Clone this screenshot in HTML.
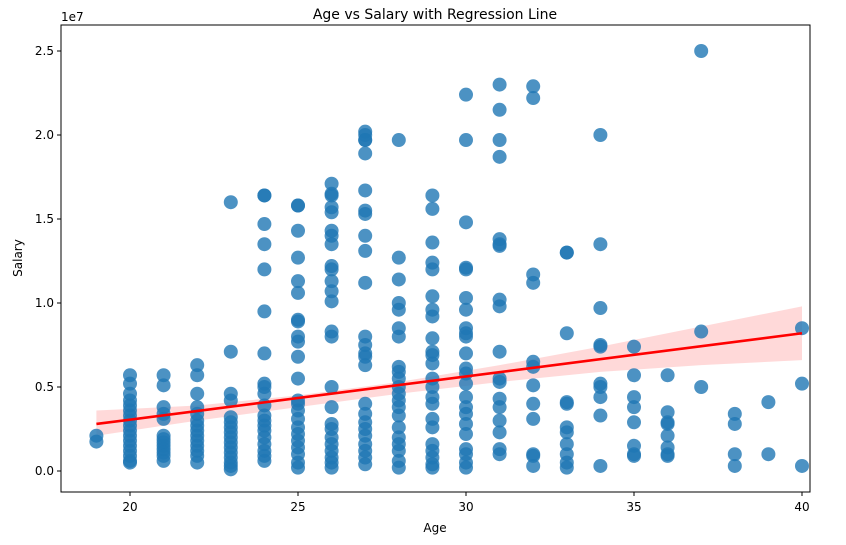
<!DOCTYPE html>
<html><head><meta charset="utf-8"><style>
body{margin:0;background:#fff;font-family:"Liberation Sans","DejaVu Sans",sans-serif}
svg text{font-family:"DejaVu Sans","Liberation Sans",sans-serif;fill:#000}
</style></head><body>
<svg id="chart" width="846" height="545" viewBox="0 0 846 545" xmlns="http://www.w3.org/2000/svg" style="position:absolute;left:0;top:0">
<g id="band"></g><g id="pts"></g><g id="reg"></g><g id="axes"></g>
</svg>
<script>
const ages=[19,20,21,22,23,24,25,26,27,28,29,30,31,32,33,34,35,36,37,38,39,40];
const salaries=[
[2.1,1.75],
[5.7,5.2,4.6,4.2,3.9,3.6,3.3,3.0,2.7,2.4,2.1,1.8,1.5,1.2,0.9,0.6,0.5],
[5.7,5.1,3.8,3.4,3.1,2.1,1.9,1.7,1.5,1.3,1.1,0.9,0.6],
[6.3,5.7,4.6,3.8,3.4,3.0,2.7,2.4,2.1,1.8,1.5,1.2,0.9,0.5],
[16.0,7.1,4.6,4.2,3.2,2.9,2.6,2.3,2.0,1.7,1.4,1.1,0.8,0.5,0.3,0.1],
[16.4,16.4,14.7,13.5,12.0,9.5,7.0,5.2,5.0,4.6,3.9,3.3,3.0,2.7,2.4,2.0,1.6,1.2,0.9,0.6],
[15.8,15.8,14.3,12.7,11.3,10.6,9.0,8.9,8.0,7.7,6.8,5.5,4.2,4.0,3.6,3.1,2.6,2.2,1.8,1.4,1.0,0.5,0.2],
[17.1,16.5,16.4,15.7,15.4,14.3,14.0,13.5,12.2,12.0,11.3,10.7,10.1,8.3,8.0,5.0,3.8,2.8,2.5,2.0,1.6,1.2,0.8,0.5,0.2],
[20.2,20.0,19.7,19.7,18.9,16.7,15.5,15.3,14.0,13.1,11.2,8.0,7.5,7.0,6.8,6.3,4.0,3.4,2.9,2.5,2.1,1.6,1.2,0.8,0.4],
[19.7,12.7,11.4,10.0,9.6,8.5,8.0,6.2,5.9,5.5,5.0,4.6,4.2,3.8,3.3,2.6,2.0,1.6,1.2,0.6,0.2],
[16.4,15.6,13.6,12.4,12.0,10.4,9.6,9.2,7.9,7.1,6.9,6.4,5.5,5.0,4.4,4.0,3.1,2.6,1.6,1.2,0.8,0.4,0.2],
[22.4,19.7,14.8,12.1,12.0,10.3,9.6,8.5,8.2,8.0,7.0,6.1,5.8,5.2,4.4,3.8,3.4,2.8,2.2,1.3,1.0,0.5,0.2],
[23.0,21.5,19.7,18.7,13.8,13.5,13.4,10.2,9.8,7.1,5.5,5.3,4.3,3.8,3.0,2.3,1.3,1.0],
[22.9,22.2,11.7,11.2,6.5,6.2,5.1,4.0,3.1,1.0,0.9,0.3],
[13.0,13.0,8.2,4.1,4.0,2.6,2.3,1.6,1.0,0.5,0.2],
[20.0,13.5,9.7,7.5,7.4,5.2,5.0,4.4,3.3,0.3],
[7.4,5.7,4.4,3.8,2.9,1.5,1.0,0.9],
[5.7,3.5,2.9,2.8,2.1,1.4,1.0,0.9],
[25.0,8.3,5.0],
[3.4,2.8,1.0,0.3],
[4.1,1.0],
[8.5,5.2,0.3]];
// regression fit and confidence band
const fitAges=[19,40];
const fitValues=[2.8,8.2];
const bandAges=[19,22,25,28,31,34,37,40];
const bandLow=[2.1,3.0,3.8,4.6,5.3,5.9,6.3,6.6];
const bandHigh=[3.6,3.9,4.5,5.3,6.3,7.4,8.6,9.8];
const xTicks=[20,25,30,35,40];
const yTicks=[0,0.5,1.0,1.5,2.0,2.5];
const NS='http://www.w3.org/2000/svg';
const L=61,R=810,T=25,B=492;
const X=a=>130+(a-20)*33.6;
const Y=m=>471-m*16.8; // millions
function mk(tag,attrs,parent){const e=document.createElementNS(NS,tag);for(const k in attrs)e.setAttribute(k,attrs[k]);parent.appendChild(e);return e;}
const gp=document.getElementById('pts');
ages.forEach((a,i)=>salaries[i].forEach(s=>{
 const c=mk('circle',{cx:X(a),cy:Y(s),r:7,fill:'#1f77b4','fill-opacity':0.8},gp);
 
 
}));
const up=bandAges.map((a,i)=>X(a)+','+Y(bandHigh[i]));
const lo=bandAges.map((a,i)=>X(a)+','+Y(bandLow[i])).reverse();
const band=mk('polygon',{points:up.concat(lo).join(' '),fill:'#ff0000','fill-opacity':0.15},document.getElementById('band'));


const rl=mk('line',{x1:X(fitAges[0]),y1:Y(fitValues[0]),x2:X(fitAges[1]),y2:Y(fitValues[1]),stroke:'#ff0000','stroke-width':2.6},document.getElementById('reg'));


const ga=document.getElementById('axes');
const fr=mk('rect',{x:L,y:T,width:R-L,height:B-T,fill:'none',stroke:'#000','stroke-width':1},ga);


xTicks.forEach(t=>{mk('line',{x1:X(t),x2:X(t),y1:B,y2:B+4,stroke:'#000'},ga);
 const tx=mk('text',{x:X(t),y:B+19,'font-size':12,'text-anchor':'middle'},ga);tx.textContent=t;
 
 });
yTicks.forEach(t=>{const y=Y(t*10);mk('line',{x1:L-4,x2:L,y1:y,y2:y,stroke:'#000'},ga);
 const tx=mk('text',{x:L-7,y:y+4,'font-size':12,'text-anchor':'end'},ga);tx.textContent=t.toFixed(1);
 
 });
</script>
<svg style="position:absolute;left:0;top:0" width="846" height="545">
<text x="61" y="21" font-size="12">1e7</text>
<text x="435" y="19" font-size="14" text-anchor="middle">Age vs Salary with Regression Line</text>
<text x="435" y="532" font-size="12" text-anchor="middle">Age</text>
<text x="22" y="258" font-size="12" text-anchor="middle" transform="rotate(-90 22 258)">Salary</text>
</svg>
</body></html>
